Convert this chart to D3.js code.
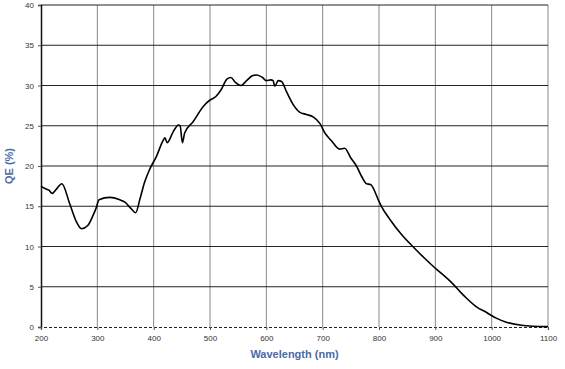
<!DOCTYPE html>
<html>
<head>
<meta charset="utf-8">
<script src="https://cdn.jsdelivr.net/npm/d3@7"></script>
<style>
  body { margin: 0; background: #fff; }
  svg { display: block; font-family: "Liberation Sans", Arial, sans-serif; }
  .tick text { font-size: 8px; fill: #333; }
  .axisLabel { font-size: 11px; font-weight: bold; fill: #4a6aa8; }
</style>
</head>
<body>
<svg width="565" height="369"></svg>
<script>
const wavelength = [200, 207, 214, 220, 227, 237, 251, 262, 272, 283, 292, 298, 303, 322, 340, 349, 360, 368, 376, 384, 393, 405, 417, 420, 424, 435, 444, 447, 451, 455, 470, 488, 500, 510, 520, 530, 537, 545, 555, 565, 575, 583, 593, 600, 608, 612, 615, 621, 627, 636, 648, 659, 671, 683, 695, 704, 716, 730, 739, 750, 760, 770, 778, 785, 800, 805, 820, 840, 860, 880, 900, 920, 932, 945, 955, 973, 991, 1008, 1026, 1050, 1073, 1100];
const qe = [17.5, 17.2, 17.0, 16.6, 17.1, 17.8, 15.3, 13.2, 12.2, 12.6, 13.8, 14.8, 15.8, 16.1, 15.8, 15.5, 14.7, 14.2, 16.0, 18.0, 19.6, 21.2, 23.2, 23.5, 22.9, 24.3, 25.1, 25.0, 22.9, 24.1, 25.5, 27.4, 28.2, 28.6, 29.5, 30.8, 31.0, 30.4, 30.0, 30.6, 31.2, 31.3, 31.0, 30.6, 30.7, 30.6, 29.9, 30.6, 30.5, 29.2, 27.6, 26.7, 26.4, 26.1, 25.3, 24.1, 23.1, 22.1, 22.2, 21.0, 20.0, 18.6, 17.8, 17.7, 15.6, 14.9, 13.3, 11.5, 10.0, 8.6, 7.3, 6.1, 5.3, 4.3, 3.6, 2.5, 1.8, 1.1, 0.6, 0.25, 0.1, 0.05];
const xTicks = [200, 300, 400, 500, 600, 700, 800, 900, 1000, 1100];
const yTicks = [0, 5, 10, 15, 20, 25, 30, 35, 40];

const svg = d3.select("svg");
const margin = { top: 5, right: 17, bottom: 42, left: 41 };
const width = +svg.attr("width");
const height = +svg.attr("height");
const innerWidth = width - margin.left - margin.right;
const innerHeight = height - margin.top - margin.bottom;

const xScale = d3.scaleLinear().domain([200, 1100]).range([0, innerWidth]);
const yScale = d3.scaleLinear().domain([0, 40]).range([innerHeight, 0]);

const g = svg.append("g").attr("transform", `translate(${margin.left},${margin.top})`);

// grid: vertical gray, horizontal black
g.append("g")
  .selectAll("line")
  .data(xTicks.slice(1))
  .enter()
  .append("line")
  .attr("x1", (d) => xScale(d))
  .attr("x2", (d) => xScale(d))
  .attr("y1", 0)
  .attr("y2", innerHeight)
  .attr("stroke", "#888")
  .attr("stroke-width", 1);

g.append("g")
  .selectAll("line")
  .data(yTicks.slice(1))
  .enter()
  .append("line")
  .attr("x1", 0)
  .attr("x2", innerWidth)
  .attr("y1", (d) => yScale(d))
  .attr("y2", (d) => yScale(d))
  .attr("stroke", "#222")
  .attr("stroke-width", 1.2);

const yAxis = g.append("g")
  .call(d3.axisLeft(yScale).tickValues(yTicks).tickSize(3).tickPadding(4));
yAxis.select(".domain").attr("stroke", "#111").attr("stroke-width", 1.5);
yAxis.selectAll(".tick line").attr("stroke", "#555");

const xAxis = g.append("g")
  .attr("transform", `translate(0,${innerHeight})`)
  .call(d3.axisBottom(xScale).tickValues(xTicks).tickFormat(d3.format("d")).tickSize(3).tickPadding(5));
xAxis.select(".domain").attr("stroke", "#222").attr("stroke-dasharray", "3,2").attr("stroke-width", 1.2);
xAxis.selectAll(".tick line").attr("stroke", "#555");

const line = d3.line()
  .x((d, i) => xScale(wavelength[i]))
  .y((d) => yScale(d))
  .curve(d3.curveMonotoneX);

g.append("path")
  .datum(qe)
  .attr("fill", "none")
  .attr("stroke", "#000")
  .attr("stroke-width", 1.6)
  .attr("d", line);

svg.append("text")
  .attr("class", "axisLabel")
  .attr("text-anchor", "middle")
  .attr("x", margin.left + innerWidth / 2)
  .attr("y", 358)
  .text("Wavelength (nm)");

svg.append("text")
  .attr("class", "axisLabel")
  .attr("text-anchor", "middle")
  .attr("transform", `translate(13,${margin.top + innerHeight / 2}) rotate(-90)`)
  .text("QE (%)");
</script>
</body>
</html>
